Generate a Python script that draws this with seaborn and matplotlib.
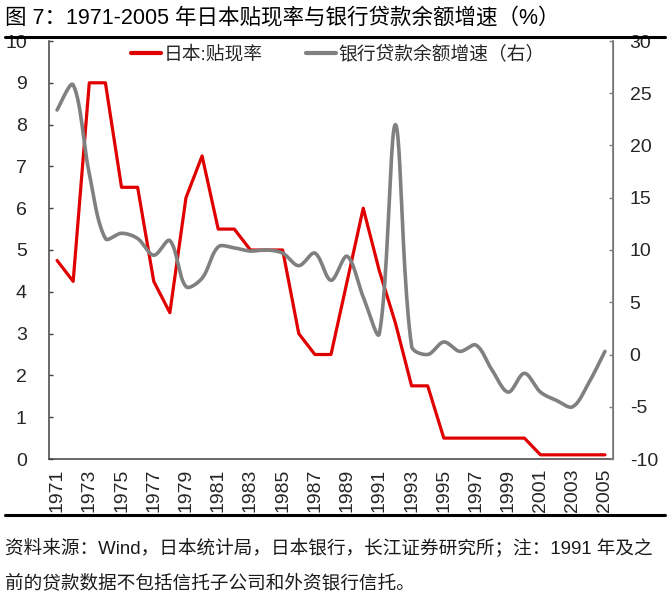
import numpy as np
import pandas as pd
import matplotlib
matplotlib.use("Agg")
import matplotlib.pyplot as plt
from matplotlib.lines import Line2D
import seaborn as sns

# data
years = list(range(1971, 2006))
discount_rate = [4.75, 4.25, 9.0, 9.0, 6.5, 6.5, 4.25, 3.5, 6.25, 7.25,
                 5.5, 5.5, 5.0, 5.0, 5.0, 3.0, 2.5, 2.5, 4.25, 6.0,
                 4.5, 3.25, 1.75, 1.75, 0.5, 0.5, 0.5, 0.5, 0.5, 0.5,
                 0.1, 0.1, 0.1, 0.1, 0.1]
loan_growth = [23.4, 25.8, 17.3, 11.1, 11.6, 11.1, 9.5, 10.9, 6.5, 7.3,
               10.3, 10.2, 9.9, 10.0, 9.7, 8.5, 9.7, 7.1, 9.4, 5.5,
               2.0, 22.0, 0.8, 0.0, 1.2, 0.3, 0.9, -1.5, -3.6, -1.8,
               -3.6, -4.4, -5.0, -2.7, 0.3]
year_labels = [str(y) for y in years[::2]]

name_rate = "日本:贴现率"
name_loan = "银行贷款余额增速（右）"
title = "图 7：1971-2005 年日本贴现率与银行贷款余额增速（%）"
note1 = "资料来源：Wind，日本统计局，日本银行，长江证券研究所；注：1991 年及之"
note2 = "前的贷款数据不包括信托子公司和外资银行信托。"

RED = "#E00000"
GRAY = "#808080"

sns.set_style("white")
plt.rcParams["font.family"] = ["Liberation Sans", "Noto Sans CJK SC", "DejaVu Sans"]
plt.rcParams["axes.unicode_minus"] = False

df = pd.DataFrame({"pos": np.arange(len(years)), "rate": discount_rate, "loan": loan_growth})


def smooth(x, y, sx, sy, n=24):
    # bezier path through the points, tangents scaled by segment length
    # in screen units (close to excel's smoothed line)
    x = np.asarray(x, float)
    y = np.asarray(y, float)
    P = np.column_stack([x * sx, y * sy])
    m = len(P)
    d = np.hypot(*np.diff(P, axis=0).T)
    t = np.linspace(0, 1, n, endpoint=False)[:, None]
    pts = []
    for i in range(m - 1):
        p1, p2 = P[i], P[i + 1]
        p0 = P[i - 1] if i > 0 else p1
        p3 = P[i + 2] if i + 2 < m else p2
        d01 = d[i - 1] if i > 0 else d[i]
        d23 = d[i + 1] if i + 2 < m else d[i]
        c1 = p1 + (p2 - p0) * d[i] / (d01 + d[i]) / 3
        c2 = p2 - (p3 - p1) * d[i] / (d[i] + d23) / 3
        seg = ((1 - t) ** 3 * p1 + 3 * (1 - t) ** 2 * t * c1
               + 3 * (1 - t) * t ** 2 * c2 + t ** 3 * p2)
        pts.append(seg)
    pts.append(P[-1:])
    pts = np.vstack(pts)
    return pd.DataFrame({"x": pts[:, 0] / sx, "y": pts[:, 1] / sy})


loan_curve = smooth(df["pos"], df["loan"], 16.1, 10.45)

fig = plt.figure(figsize=(6.69, 5.97), dpi=100)
ax = fig.add_axes([49 / 669, 1 - 459 / 597, 564 / 669, 418 / 597])
ax2 = ax.twinx()

sns.lineplot(data=df, x="pos", y="rate", ax=ax, color=RED, linewidth=2.3,
             estimator=None, sort=False)
sns.lineplot(data=loan_curve, x="x", y="y", ax=ax2, color=GRAY, linewidth=2.6,
             estimator=None, sort=False)

ax.set_xlim(-0.5, len(years) - 0.5)
ax.set_ylim(0, 10)
ax2.set_ylim(-10, 30)
ax.set_yticks(range(0, 11))
ax2.set_yticks(range(-10, 31, 5))
ax.set_xticks(range(0, len(years), 2))
ax.set_xticklabels(year_labels, rotation=90)
ax.set_xticks(np.arange(1.5, len(years) - 1, 2), minor=True)
for a in (ax, ax2):
    a.set_xlabel("")
    a.set_ylabel("")
    a.spines["top"].set_visible(False)

ax.tick_params(axis="x", which="major", length=0, pad=7, labelsize=14)
ax.tick_params(axis="x", which="minor", direction="in", length=3.5, width=1, color="#404040")
ax.tick_params(axis="y", direction="in", length=3, width=1, color="#404040", pad=16, labelsize=14)
ax2.tick_params(axis="y", direction="in", length=3, width=1, color=GRAY, pad=12, labelsize=14)
ax.spines["left"].set_color("#404040")
ax.spines["bottom"].set_color("#404040")
ax2.spines["right"].set_color(GRAY)
for s in ("left", "bottom"):
    ax.spines[s].set_linewidth(1.1)
ax2.spines["right"].set_linewidth(1.3)
ax2.spines["left"].set_visible(False)
ax2.spines["bottom"].set_visible(False)

handles = [Line2D([], [], color=RED, linewidth=3), Line2D([], [], color=GRAY, linewidth=3)]
ax2.legend(handles, [name_rate, name_loan], loc="upper center", bbox_to_anchor=(0.512, 1.03),
           ncol=2, frameon=False, fontsize=13.5, handlelength=1.6, handletextpad=0.15,
           columnspacing=2.3)

fig.text(0.008, 1 - 19 / 597, title, fontsize=15.5, va="center", ha="left", color="black")
fig.add_artist(Line2D([0.008, 0.994], [1 - 37 / 597] * 2, color="black", linewidth=2.2))
fig.add_artist(Line2D([0.008, 0.994], [1 - 515 / 597] * 2, color="black", linewidth=2.2))
fig.text(0.008, 1 - 548 / 597, note1, fontsize=13.4, va="center", ha="left", color="#1a1a1a")
fig.text(0.008, 1 - 583 / 597, note2, fontsize=13.4, va="center", ha="left", color="#1a1a1a")

fig.savefig("out.png", dpi=100)
